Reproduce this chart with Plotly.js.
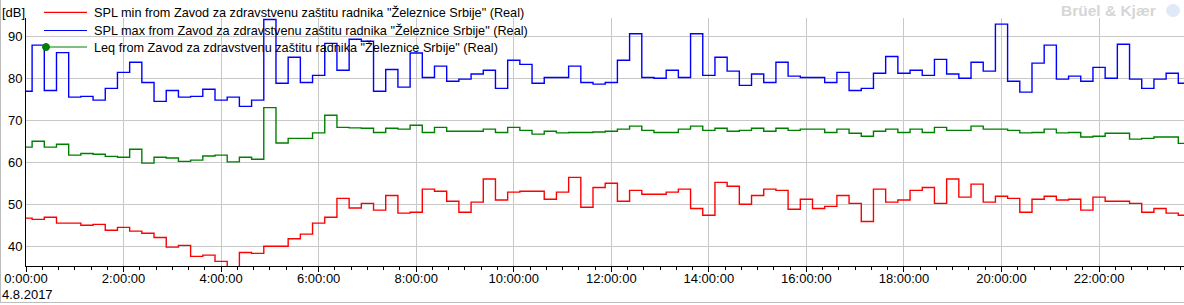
<!DOCTYPE html>
<html><head><meta charset="utf-8">
<script src="https://cdn.plot.ly/plotly-3.0.1.min.js"></script>
<style>html,body{margin:0;padding:0;background:#fff;}#chart{width:1184px;height:305px;}</style>
</head><body><div id="chart"></div>
<script>
// ---- data (15-minute intervals, 4.8.2017) ----
const day = '2017-08-04';
const times = [
'00:00','00:15','00:30','00:45','01:00','01:15','01:30','01:45','02:00','02:15','02:30','02:45',
'03:00','03:15','03:30','03:45','04:00','04:15','04:30','04:45','05:00','05:15','05:30','05:45',
'06:00','06:15','06:30','06:45','07:00','07:15','07:30','07:45','08:00','08:15','08:30','08:45',
'09:00','09:15','09:30','09:45','10:00','10:15','10:30','10:45','11:00','11:15','11:30','11:45',
'12:00','12:15','12:30','12:45','13:00','13:15','13:30','13:45','14:00','14:15','14:30','14:45',
'15:00','15:15','15:30','15:45','16:00','16:15','16:30','16:45','17:00','17:15','17:30','17:45',
'18:00','18:15','18:30','18:45','19:00','19:15','19:30','19:45','20:00','20:15','20:30','20:45',
'21:00','21:15','21:30','21:45','22:00','22:15','22:30','22:45','23:00','23:15','23:30','23:45'];

const splMin = [
46.7,46.4,46.9,45.5,45.5,45.0,45.2,43.8,44.5,43.6,43.1,42.1,39.8,40.2,37.6,37.9,
36.4,34.5,38.5,38.3,40.0,40.0,41.8,42.9,45.5,46.9,51.4,49.1,50.2,48.6,52.1,47.9,
48.1,53.6,53.1,50.7,48.1,50.5,56.0,51.0,52.9,53.1,53.1,51.2,52.9,56.4,49.3,54.0,
55.0,50.7,53.3,52.4,52.4,52.9,53.6,49.0,47.4,55.2,54.3,50.0,52.1,53.6,53.3,48.8,
51.2,49.0,49.5,52.1,50.2,45.9,53.6,50.5,51.0,53.3,54.0,50.2,56.0,51.7,54.8,50.5,
51.9,51.4,48.1,51.2,51.9,51.0,51.2,48.6,51.7,50.7,50.7,50.2,48.1,49.0,47.9,47.4];

const splMax = [
76.9,87.9,77.1,86.1,75.5,75.7,74.8,77.6,81.4,83.8,79.0,74.5,77.1,75.5,75.7,77.4,
74.8,75.5,73.3,74.8,94.0,78.8,85.0,79.0,80.7,88.3,81.9,89.3,88.8,76.9,82.1,77.9,
86.0,80.2,82.9,79.3,79.8,81.0,81.9,77.6,84.3,83.3,78.8,80.2,80.2,82.9,79.0,78.6,
79.0,84.3,90.6,80.2,80.0,81.9,80.2,90.6,80.7,85.0,81.7,78.3,81.0,79.0,83.8,80.5,
80.2,80.2,79.0,81.4,77.1,77.6,81.2,85.2,81.2,81.9,80.7,84.5,81.0,80.0,83.8,81.7,
92.9,79.3,76.7,83.6,87.9,79.8,80.5,79.3,82.6,80.0,88.1,79.8,77.6,79.8,81.2,78.8];

const leq = [
63.6,65.0,63.6,64.3,61.7,62.1,61.9,61.4,61.2,63.1,59.8,61.2,61.0,60.2,60.5,61.5,
61.7,60.1,61.2,60.7,73.0,64.6,65.7,65.7,67.0,71.2,68.3,68.2,68.1,67.1,68.1,67.9,
68.8,67.1,68.3,67.4,67.4,67.4,67.9,67.1,68.3,67.6,66.7,67.4,67.0,67.1,67.1,67.2,
67.4,67.9,68.6,67.6,67.1,67.1,67.9,68.6,67.6,68.1,67.4,67.6,68.1,67.4,68.1,67.6,
67.9,67.9,67.1,67.9,66.9,66.2,67.4,67.9,67.1,67.9,67.1,68.3,67.6,67.6,68.6,67.9,
67.9,67.6,67.0,67.1,67.9,67.0,67.1,66.0,66.2,66.9,66.9,65.5,65.7,66.0,66.0,64.5];

const seriesNames = [
 'SPL min from Zavod za zdravstvenu zaštitu radnika "Železnice Srbije" (Real)',
 'SPL max from Zavod za zdravstvenu zaštitu radnika "Železnice Srbije" (Real)',
 'Leq from Zavod za zdravstvenu zaštitu radnika "Železnice Srbije" (Real)'];
const seriesColors = ['#ff0000','#0000ff','#008000'];
const yTicks = [40,50,60,70,80,90];
const unitLabel = '[dB]';
const dateLabel = '4.8.2017';
const brandLabel = 'Brüel &amp; Kjær';

// ---- layout geometry ----
const W=1184,H=305,L=26,R=0,T=18,B=39;
const pw=W-L-R, ph=H-T-B;
const px = x => (x-L)/pw;
const py = y => (H-B-y)/ph;
const FONT='Liberation Sans, Arial, sans-serif';

const xs = times.map(t => day+' '+t+':00');
const series = [splMin, splMax, leq];
const traces = series.map((vals,i)=>({
  type:'scatter', mode:'lines', x:xs, y:vals, name:seriesNames[i],
  line:{color:seriesColors[i], width:1.4, shape:'hvh'}, showlegend:false, hoverinfo:'skip'
}));

const legendY=[12.3,30.5,47];
const shapes=[];
const annotations=[];
legendY.forEach((y,i)=>{
  shapes.push({type:'line',xref:'paper',yref:'paper',x0:px(44),x1:px(87),y0:py(y),y1:py(y),
    line:{color:seriesColors[i],width:1.2}});
  annotations.push({xref:'paper',yref:'paper',x:px(92.5),y:py(y),xanchor:'left',yanchor:'middle',
    text:seriesNames[i],showarrow:false,font:{family:FONT,size:12.7,color:'#000'},borderpad:0});
});
// cursor marker on legend
shapes.push({type:'circle',xref:'paper',yref:'paper',x0:px(42.5),x1:px(49.5),y0:py(50.5),y1:py(43.5),
  fillcolor:'#008000',line:{color:'#008000',width:1}});
// outer frame
shapes.push({type:'line',xref:'paper',yref:'paper',x0:px(0.5),x1:px(0.5),y0:py(0),y1:py(302),line:{color:'#bdbdbd',width:1}});
shapes.push({type:'line',xref:'paper',yref:'paper',x0:px(0),x1:px(1184),y0:py(302.5),y1:py(302.5),line:{color:'#bdbdbd',width:1}});
// brand logo
shapes.push({type:'circle',xref:'paper',yref:'paper',x0:px(1166),x1:px(1180),y0:py(17),y1:py(4),
  fillcolor:'#dfe9f7',line:{color:'#dfe9f7',width:0}});

annotations.push({xref:'paper',yref:'paper',x:px(1),y:py(12.3),xanchor:'left',yanchor:'middle',
  text:unitLabel,showarrow:false,font:{family:FONT,size:13,color:'#000'},borderpad:0});
annotations.push({xref:'paper',yref:'paper',x:px(1),y:py(294),xanchor:'left',yanchor:'middle',
  text:dateLabel,showarrow:false,font:{family:FONT,size:13,color:'#000'},borderpad:0});
annotations.push({xref:'paper',yref:'paper',x:px(1157),y:py(11),xanchor:'right',yanchor:'middle',
  text:'<b>'+brandLabel+'</b>',showarrow:false,font:{family:FONT,size:15.5,color:'#d6d6d6'},borderpad:0});

const layout={
  width:W,height:H,margin:{l:L,r:R,t:T,b:B,pad:0},
  paper_bgcolor:'#fff',plot_bgcolor:'#fff',showlegend:false,
  font:{family:FONT,size:13,color:'#000'},
  xaxis:{type:'date',range:[day+' 00:00:00',day+' 23:44:30'],
    tick0:day+' 00:00:00',dtick:7200000,tickformat:'%-H:%M:%S',
    showgrid:true,gridcolor:'#c8c8c8',gridwidth:1,
    showline:true,linecolor:'#000',linewidth:1,
    ticks:'outside',ticklen:5,tickcolor:'#000',tickwidth:1,ticklabelstandoff:-5,
    minor:{dtick:1200000,tick0:day+' 00:00:00',ticks:'outside',ticklen:3,tickcolor:'#000',showgrid:false},
    tickfont:{family:FONT,size:13,color:'#000'},zeroline:false,fixedrange:true},
  yaxis:{range:[35.3,94.35],tickvals:yTicks,ticktext:yTicks.map(String),
    showgrid:true,gridcolor:'#c8c8c8',gridwidth:1,
    showline:true,linecolor:'#000',linewidth:1,ticks:'',
    tickfont:{family:FONT,size:13,color:'#000'},zeroline:false,fixedrange:true},
  shapes:shapes,annotations:annotations
};
Plotly.newPlot('chart',traces,layout,{staticPlot:true,displayModeBar:false});
</script></body></html>
